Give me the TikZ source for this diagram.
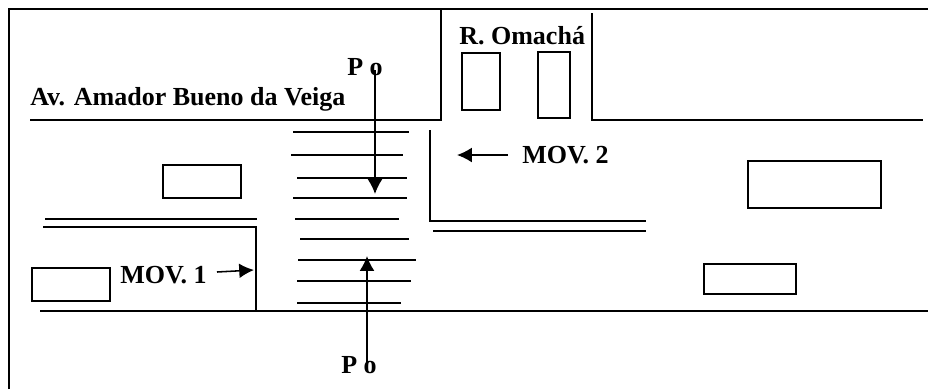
\documentclass[tikz,border=0pt]{standalone}
\usepackage{fontspec}
\setmainfont{Liberation Serif}
\usepackage{tikz}
\usetikzlibrary{arrows.meta,positioning}
\tikzset{
    roadline/.style={black, line width=1.1pt},
    carbox/.style={black, line width=1pt},
    zebra/.style={black, line width=1.1pt},
    movearrow/.style={black, line width=1.1pt, -{Latex[length=10.5pt,width=10.5pt]}},
    streetlabel/.style={font=\fontsize{18.5}{20}\selectfont\bfseries, anchor=base west, inner sep=0pt}
}

\begin{document}
\begin{tikzpicture}[x=0.025cm, y=-0.025cm]
    \useasboundingbox (0,0) rectangle (928,389);

    % Outer frame
    \draw[roadline] (9,389) -- (9,9) -- (928,9);

    % Kerbs of the avenue and side street
    \draw[roadline] (30,120) -- (441,120) -- (441,10);
    \draw[roadline] (592,13) -- (592,120);
    \draw[roadline] (591,120) -- (923,120);
    \draw[roadline] (40,311) -- (928,311);
    \draw[roadline] (45,219) -- (257,219);
    \draw[roadline] (43,227) -- (256,227) -- (256,311);
    \draw[roadline] (430,130) -- (430,221) -- (646,221);
    \draw[roadline] (433,231) -- (646,231);

    % Parked vehicles
    \foreach \xa/\ya/\xb/\yb in {462/53/500/110, 538/52/570/118, 163/165/241/198,
        748/161/881/208, 704/264/796/294, 32/268/110/301}
        \draw[carbox] (\xa,\ya) rectangle (\xb,\yb);

    % Pedestrian crossing
    \foreach \xa/\xb/\yy in {293/409/132, 291/403/155, 297/407/178, 293/407/198, 295/399/219,
        300/409/239, 298/416/260, 297/411/281, 297/401/303}
        \draw[zebra] (\xa,\yy) -- (\xb,\yy);

    % Labels
    \node[streetlabel] (avenida) at (30,105) {Av. Amador Bueno da Veiga};
    \node[streetlabel] (omacha) at (459,44) {R. Omachá};
    \node[streetlabel] (mov1) at (120,283) {MOV. 1};
    \node[streetlabel] (mov2) at (522,163) {MOV. 2};
    \node[streetlabel] (potop) at (347,75) {P o};
    \node[streetlabel] (pobottom) at (341,373) {P o};

    % Movements
    \coordinate (downstart) at (375,70);
    \coordinate (downend) at (375,194);
    \coordinate (upstart) at (367,370);
    \coordinate (upend) at (367,256);
    \coordinate (onestart) at (217,272);
    \coordinate (oneend) at (254,270);
    \coordinate (twostart) at (508,155);
    \coordinate (twoend) at (457,155);
    \draw[movearrow] (downstart) -- (downend);
    \draw[movearrow] (upstart) -- (upend);
    \draw[movearrow] (onestart) -- (oneend);
    \draw[movearrow] (twostart) -- (twoend);
\end{tikzpicture}
\end{document}
